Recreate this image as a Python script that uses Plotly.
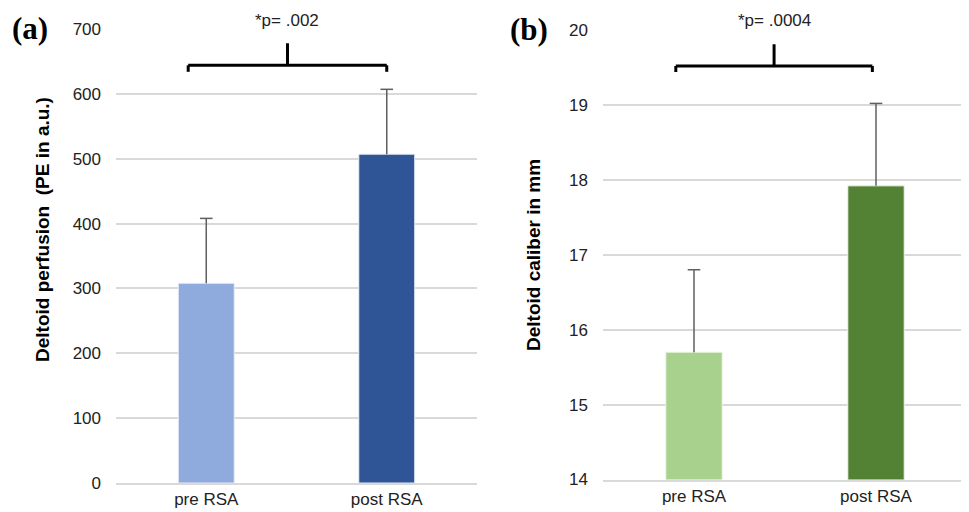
import plotly.graph_objects as go

categories = ["pre RSA", "post RSA"]
perfusion = [308, 507]
perfusion_err = [100, 100]
caliber = [15.70, 17.92]
caliber_err = [1.10, 1.10]
p_a = "*p= .002"
p_b = "*p= .0004"
ticks_a = [0, 100, 200, 300, 400, 500, 600, 700]
ticks_b = [14, 15, 16, 17, 18, 19, 20]

colors_a = ["#8FAADC", "#2F5597"]
colors_b = ["#A9D18E", "#548235"]
err_col = "#5F5F5F"
grid_col = "#D9D9D9"
font_sans = "Liberation Sans, Arial, sans-serif"
tick_font = dict(family=font_sans, size=17, color="#222")

# page has an 8px body margin: figure is sized/positioned to compensate
W, H, OFF = 961, 504, 8
def px(x):
    return (x - OFF) / W
def py(y):
    return (H - (y - OFF)) / H

fig = go.Figure()

def add_panel(vals, errs, colors, edge, xa, ya):
    fig.add_trace(go.Bar(x=categories, y=vals, width=0.31,
                         marker=dict(color=colors, line=dict(color=edge, width=1)),
                         error_y=dict(type="data", array=errs, symmetric=False,
                                      arrayminus=[0] * len(errs), color=err_col,
                                      thickness=1.5, width=0),
                         xaxis=xa, yaxis=ya, showlegend=False, hoverinfo="y"))
    # caps at the top of the upper error bars only
    tops = [v + e for v, e in zip(vals, errs)]
    fig.add_trace(go.Scatter(x=categories, y=tops, mode="markers",
                             marker=dict(symbol="line-ew", size=9,
                                         line=dict(color=err_col, width=1.5)),
                             xaxis=xa, yaxis=ya, showlegend=False, hoverinfo="skip",
                             cliponaxis=False))

add_panel(perfusion, perfusion_err, colors_a, "#E8EEF8", "x", "y")
add_panel(caliber, caliber_err, colors_b, "#EEF6E8", "x2", "y2")

axis_common = dict(showgrid=False, showline=True, linecolor=grid_col, linewidth=1.5,
                   ticks="", tickfont=tick_font, automargin=False, fixedrange=True)
yaxis_common = dict(showgrid=True, gridcolor=grid_col, gridwidth=1.5, zeroline=False,
                    showline=False, ticks="", ticklabelstandoff=14, automargin=False,
                    tickfont=tick_font, fixedrange=True)

fig.update_layout(
    width=W, height=H, margin=dict(l=0, r=0, t=0, b=0, autoexpand=False),
    plot_bgcolor="white", paper_bgcolor="white",
    xaxis=dict(domain=[px(116), px(477)], anchor="y", range=[-0.5, 1.5], **axis_common),
    yaxis=dict(domain=[py(483), py(29)], anchor="x", range=[0, 700], tickvals=ticks_a, **yaxis_common),
    xaxis2=dict(domain=[px(603), px(967)], anchor="y2", range=[-0.5, 1.5], **axis_common),
    yaxis2=dict(domain=[py(479.5), py(30)], anchor="x2", range=[14, 20], tickvals=ticks_b, **yaxis_common),
)

# significance brackets (in category/data coordinates)
def bracket(xr, yr, x0, x1, xm, yh, yend, ytop):
    line = dict(color="black", width=3)
    fig.add_shape(type="line", xref=xr, yref=yr, x0=x0, x1=x1, y0=yh, y1=yh, line=line)
    fig.add_shape(type="line", xref=xr, yref=yr, x0=x0, x1=x0, y0=yh, y1=yend, line=line)
    fig.add_shape(type="line", xref=xr, yref=yr, x0=x1, x1=x1, y0=yh, y1=yend, line=line)
    fig.add_shape(type="line", xref=xr, yref=yr, x0=xm, x1=xm, y0=yh, y1=ytop, line=line)

bracket("x", "y", -0.1, 1.0, 0.45, 644, 634, 678)
bracket("x2", "y2", -0.1, 0.98, 0.44, 19.52, 19.44, 19.81)

anchor = dict(showarrow=False, xanchor="center", yanchor="middle")
fig.add_annotation(text=p_a, xref="x", yref="paper", x=0.45, y=py(20), **anchor,
                   font=dict(family=font_sans, size=17, color="#222"))
fig.add_annotation(text=p_b, xref="x2", yref="paper", x=0.44, y=py(20), **anchor,
                   font=dict(family=font_sans, size=17, color="#222"))

# axis titles
fig.add_annotation(text="<b>Deltoid perfusion  (PE in a.u.)</b>", xref="paper", yref="paper",
                   x=px(42), y=py(230), textangle=-90, **anchor,
                   font=dict(family=font_sans, size=19, color="black"))
fig.add_annotation(text="<b>Deltoid caliber in mm</b>", xref="paper", yref="paper",
                   x=px(533), y=py(255), textangle=-90, **anchor,
                   font=dict(family=font_sans, size=19, color="black"))

# panel labels
serif = "Liberation Serif, Times New Roman, serif"
fig.add_annotation(text="<b>(a)</b>", xref="paper", yref="paper", x=px(29.5), y=py(29), **anchor,
                   font=dict(family=serif, size=31, color="black"))
fig.add_annotation(text="<b>(b)</b>", xref="paper", yref="paper", x=px(529), y=py(30), **anchor,
                   font=dict(family=serif, size=31, color="black"))

fig.write_html("out.html")
